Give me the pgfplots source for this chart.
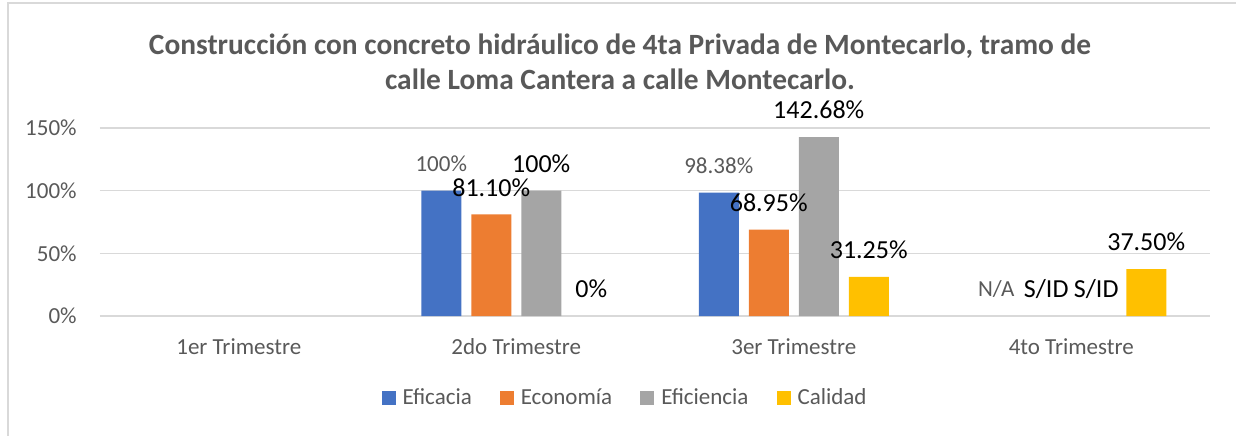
\documentclass[border=0pt]{standalone}
\usepackage{pgfplots}
\pgfplotsset{compat=1.18}
\usepackage{fontspec}
\setmainfont{Carlito}

\definecolor{cBlue}{HTML}{4472C4}
\definecolor{cOrange}{HTML}{ED7D31}
\definecolor{cGray}{HTML}{A5A5A5}
\definecolor{cGold}{HTML}{FFC000}
\definecolor{txtgray}{HTML}{595959}
\definecolor{gridc}{HTML}{D9D9D9}

\pgfplotsset{
  smalllab/.style={every node near coord/.append style={font=\fontsize{11.5}{13}\selectfont, text=txtgray}},
  biglab/.style={every node near coord/.append style={font=\fontsize{13}{15}\selectfont, text=black}},
}

\begin{document}
\begin{tikzpicture}
\useasboundingbox (-50pt,-59.5pt) rectangle (568pt,158pt);
\draw[gridc, line width=0.75pt] (-46pt,-60pt) -- (-46pt,156.5pt) -- (570pt,156.5pt);
\begin{axis}[
  scale only axis,
  width=555pt, height=94pt,
  xmin=-0.5, xmax=3.5,
  ymin=0, ymax=150,
  clip=false,
  ybar, bar width=20pt,
  xtick={0,1,2,3},
  xticklabels={1er Trimestre,2do Trimestre,3er Trimestre,4to Trimestre},
  ytick={0,50,100,150},
  yticklabels={0\%,50\%,100\%,150\%},
  major tick length=0pt,
  axis line style={draw=none},
  ymajorgrids,
  grid style={gridc, line width=0.75pt},
  tick label style={font=\fontsize{11.5}{13}\selectfont, text=txtgray},
  yticklabel style={anchor=east, inner sep=0pt, xshift=-11.5pt},
  xticklabel style={anchor=center, inner sep=0pt, yshift=-15.5pt},
  title={Construcción con concreto hidráulico de 4ta Privada de Montecarlo, tramo de\\calle Loma Cantera a calle Montecarlo.},
  title style={at={(axis description cs:0.4685,1.29)}, anchor=center, align=center,
    font=\bfseries\fontsize{14.7}{17.5}\selectfont, text=txtgray},
  legend columns=4,
  legend style={draw=none, at={(axis description cs:0.4739,-0.436)}, anchor=center,
    font=\fontsize{11.5}{13}\selectfont, text=txtgray,
    /tikz/every odd column/.append style={column sep=1.5pt},
    /tikz/every even column/.append style={column sep=12pt}},
  legend image code/.code={\draw[#1,draw=none] (0pt,-3.5pt) rectangle (7pt,3.5pt);},
  point meta=explicit symbolic,
  nodes near coords,
  nodes near coords align={center},
  every node near coord/.append style={anchor=center, yshift=13.5pt, inner sep=0pt},
]
% bars with values
\addplot[fill=cBlue, draw=none, bar shift=-37.5pt, smalllab]
  coordinates {(1,100) [100\%] (2,98.38) [98.38\%]};
\addlegendentry{Eficacia}
\addplot[fill=cOrange, draw=none, bar shift=-12.5pt, biglab]
  coordinates {(1,81.10) [81.10\%] (2,68.95) [68.95\%]};
\addlegendentry{Economía}
\addplot[fill=cGray, draw=none, bar shift=12.5pt, biglab]
  coordinates {(1,100) [100\%] (2,142.68) [142.68\%]};
\addlegendentry{Eficiencia}
\addplot[fill=cGold, draw=none, bar shift=37.5pt, biglab]
  coordinates {(2,31.25) [31.25\%] (3,37.50) [37.50\%]};
\addlegendentry{Calidad}
% labels of empty / zero entries
\addplot[forget plot, fill=none, draw=none, bar shift=-37.5pt, smalllab]
  coordinates {(3,0) [N/A]};
\addplot[forget plot, fill=none, draw=none, bar shift=-12.5pt, biglab]
  coordinates {(3,0) [S/ID]};
\addplot[forget plot, fill=none, draw=none, bar shift=12.5pt, biglab]
  coordinates {(3,0) [S/ID]};
\addplot[forget plot, fill=none, draw=none, bar shift=37.5pt, biglab]
  coordinates {(1,0) [0\%]};
\end{axis}
\end{tikzpicture}
\end{document}
